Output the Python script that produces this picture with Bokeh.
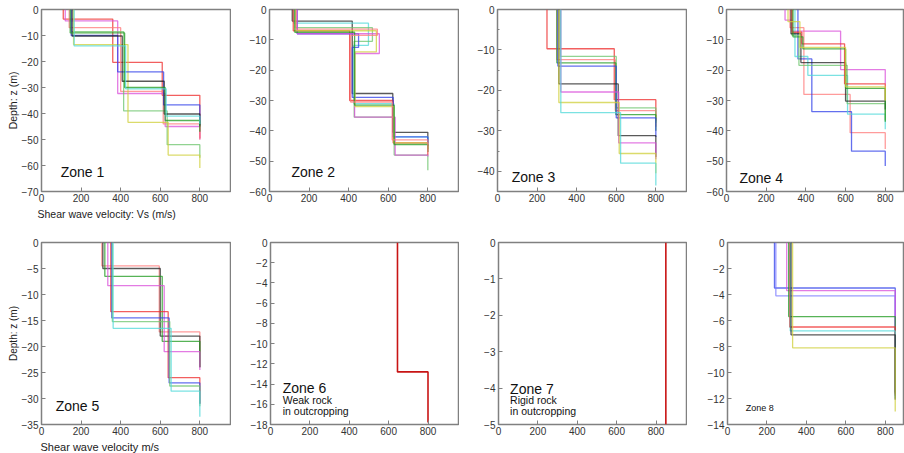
from bokeh.plotting import figure
from bokeh.models import Range1d, FixedTicker, Label, Title, ColumnDataSource
from bokeh.layouts import row, column
from bokeh.embed import file_html
from bokeh.resources import INLINE

# ---------------- data (velocity m/s, layer bottom depth m) ----------------
RED, PINK, MAG, BLUE, LBLUE = "#ee2a2a", "#ff7a7a", "#d94fd9", "#2f3fe8", "#7a7aff"
GREEN, LGREEN, BLACK, CYAN, YEL = "#1f9a1f", "#6cc46c", "#222222", "#4fd8d8", "#cfcf3a"

zone1_colors = [RED, MAG, PINK, LGREEN, YEL, BLUE, BLACK, GREEN, CYAN]
zone1_vs = [[110, 360, 610, 800], [120, 385, 625, 800], [140, 400, 615, 800],
            [150, 415, 635, 800], [162, 437, 640, 800], [150, 385, 617, 800],
            [155, 408, 620, 800], [145, 420, 625, 800], [165, 425, 630, 800]]
zone1_z = [[3.7, 20.3, 33.0, 49.5], [4.4, 32.3, 45.0, 50.0], [7.0, 31.5, 44.0, 50.0],
           [8.5, 39.0, 52.0, 57.0], [13.5, 43.4, 56.0, 61.0], [10.0, 24.0, 36.7, 44.5],
           [10.2, 27.6, 40.2, 45.0], [9.0, 30.0, 42.7, 47.0], [14.0, 30.5, 41.0, 44.0]]

zone2_colors = [BLACK, CYAN, LGREEN, RED, BLUE, MAG, YEL, GREEN, PINK]
zone2_vs = [[115, 418, 623, 800], [123, 500, 425, 628, 800], [130, 520, 428, 630, 800],
            [120, 405, 625, 800], [140, 450, 418, 625, 800], [140, 555, 430, 635, 800],
            [130, 540, 432, 628, 800], [128, 430, 630, 800], [135, 545, 410, 620, 800]]
zone2_z = [[3.8, 27.7, 40.5, 44.0], [4.5, 11.8, 31.0, 42.0, 46.0], [6.0, 10.5, 35.5, 48.0, 53.0],
           [7.0, 30.0, 44.0, 48.0], [8.0, 12.5, 29.0, 42.0, 45.0], [8.0, 14.5, 35.5, 48.0, 48.5],
           [7.0, 14.0, 32.0, 44.0, 46.0], [7.5, 31.5, 44.5, 47.0], [6.5, 8.5, 30.5, 43.0, 47.0]]

zone3_colors = [RED, PINK, LGREEN, GREEN, BLUE, BLACK, MAG, YEL, CYAN]
zone3_vs = [[250, 590, 800], [300, 595, 800], [318, 600, 800], [300, 598, 800], [305, 600, 800],
            [310, 610, 800], [320, 612, 800], [310, 615, 800], [320, 622, 800]]
zone3_z = [[9.7, 22.3, 27.5], [12.4, 25.0, 29.0], [11.6, 24.3, 28.0], [13.2, 26.0, 30.0],
           [14.0, 26.8, 31.5], [18.4, 31.2, 36.5], [20.4, 33.0, 37.0], [23.0, 35.6, 40.5],
           [25.5, 38.0, 43.5]]

zone4_colors = [MAG, PINK, BLUE, CYAN, LGREEN, BLACK, RED, GREEN, YEL]
zone4_vs = [[295, 330, 575, 800], [320, 390, 623, 800], [360, 430, 630, 800],
            [345, 410, 610, 800], [330, 365, 608, 800], [325, 375, 600, 800],
            [330, 380, 595, 800], [335, 385, 600, 800], [310, 370, 600, 800]]
zone4_z = [[3.5, 7.1, 19.8, 24.5], [6.0, 28.0, 40.6, 46.0], [16.3, 33.7, 46.7, 51.6],
           [15.5, 21.7, 34.5, 39.5], [8.5, 18.4, 31.0, 36.5], [8.0, 17.5, 30.2, 33.0],
           [7.5, 11.3, 24.5, 30.0], [9.0, 13.0, 26.0, 37.0], [4.0, 12.5, 25.5, 30.0]]

zone5_colors = [PINK, BLACK, GREEN, MAG, RED, BLUE, LGREEN, CYAN]
zone5_vs = [[305, 595, 800], [310, 600, 800], [320, 610, 800], [335, 620, 800],
            [350, 640, 800], [355, 645, 800], [358, 648, 800], [362, 655, 800]]
zone5_z = [[4.5, 17.2, 24.0], [5.0, 18.0, 24.0], [6.5, 19.0, 24.0], [8.3, 21.0, 24.5],
           [13.3, 26.0, 31.0], [14.5, 27.0, 31.0], [15.2, 27.6, 31.5], [16.5, 28.6, 33.5]]

zone6_colors = ["#c81414"]
zone6_vs = [[645, 800]]
zone6_z = [[12.8, 17.8]]

zone7_colors = ["#c81414"]
zone7_vs = [[850]]
zone7_z = [[5.0]]

zone8_colors = [BLUE, LBLUE, MAG, GREEN, RED, CYAN, BLACK, YEL]
zone8_vs = [[238, 850], [245, 850], [300, 850], [310, 850], [315, 850], [318, 850],
            [322, 850], [330, 850]]
zone8_z = [[3.5, 11.5], [4.1, 11.8], [3.7, 11.5], [5.7, 11.6], [6.5, 11.7], [6.8, 12.0],
           [7.1, 12.1], [8.1, 13.0]]

x_ticks = [0, 200, 400, 600, 800]
zone1_yticks = [0, -10, -20, -30, -40, -50, -60, -70]
zone2_yticks = [0, -10, -20, -30, -40, -50, -60]
zone3_yticks = [0, -10, -20, -30, -40]
zone3_yminor = [-5, -15, -25, -35, -45]
zone4_yticks = [0, -10, -20, -30, -40, -50, -60]
zone5_yticks = [0, -5, -10, -15, -20, -25, -30, -35]
zone6_yticks = [0, -2, -4, -6, -8, -10, -12, -14, -16, -18]
zone7_yticks = [0, -1, -2, -3, -4, -5]
zone8_yticks = [0, -2, -4, -6, -8, -10, -12, -14]
zone_depth_limits = [-70, -60, -45, -60, -35, -18, -5, -14]

FONT = "Liberation Sans"
FRAME = "#808080"


def steps(vs, zs):
    xs, ys, prev = [], [], 0.0
    for v, z in zip(vs, zs):
        xs += [v, v]
        ys += [-prev, -z]
        prev = z
    return xs, ys


def style_axis(ax):
    ax.axis_line_color = None
    ax.major_tick_in = 4
    ax.major_tick_out = 0
    ax.minor_tick_in = 2
    ax.minor_tick_out = 0
    ax.major_tick_line_color = FRAME
    ax.minor_tick_line_color = FRAME
    ax.major_label_text_font = FONT
    ax.major_label_text_font_size = "10px"
    ax.major_label_text_color = "#333333"
    ax.major_label_standoff = 3


def panel(vs_list, z_list, colors, yticks, ymin, xend, w, h, left, top, bottom, yminor=None):
    p = figure(width=w, height=h, x_range=Range1d(0, xend), y_range=Range1d(ymin, 0),
               output_backend="svg", toolbar_location=None,
               min_border_left=left, min_border_right=0, min_border_top=top,
               min_border_bottom=bottom)
    p.grid.visible = False
    p.outline_line_color = FRAME
    p.outline_line_width = 1.5
    xs, ys = [], []
    for vs, zs in zip(vs_list, z_list):
        x, y = steps(vs, zs)
        xs.append(x)
        ys.append(y)
    src = ColumnDataSource(dict(xs=xs, ys=ys, color=colors))
    p.multi_line("xs", "ys", line_color="color", line_width=1.3, line_alpha=0.75, source=src)

    p.xaxis.ticker = FixedTicker(ticks=x_ticks, minor_ticks=[])
    p.yaxis.ticker = FixedTicker(ticks=yticks, minor_ticks=yminor or [])
    style_axis(p.xaxis[0])
    style_axis(p.yaxis[0])
    p.xaxis.major_label_standoff = 2
    return p


def zone_label(p, text, x, y, size="14px"):
    p.add_layout(Label(x=x, y=y, text=text, text_font=FONT, text_font_size=size,
                       text_color="#111111", text_baseline="alphabetic"))


XEND = 960
XEND4 = 897
L = zone_depth_limits

p1 = panel(zone1_vs, zone1_z, zone1_colors, zone1_yticks, L[0], XEND, 231, 233, 41, 9, 42)
p2 = panel(zone2_vs, zone2_z, zone2_colors, zone2_yticks, L[1], XEND, 228, 233, 38, 9, 42)
p3 = panel(zone3_vs, zone3_z, zone3_colors, zone3_yticks, L[2], XEND, 228, 233, 38, 9, 42,
           zone3_yminor)
p4 = panel(zone4_vs, zone4_z, zone4_colors, zone4_yticks, L[3], XEND4, 217, 233, 39, 9, 42)
p5 = panel(zone5_vs, zone5_z, zone5_colors, zone5_yticks, L[4], XEND, 231, 220, 41, 9, 28)
p6 = panel(zone6_vs, zone6_z, zone6_colors, zone6_yticks, L[5], XEND, 228, 220, 39, 9, 28)
p7 = panel(zone7_vs, zone7_z, zone7_colors, zone7_yticks, L[6], XEND, 228, 220, 39, 9, 28)
p8 = panel(zone8_vs, zone8_z, zone8_colors, zone8_yticks, L[7], XEND4, 217, 220, 40, 9, 28)

for p in (p6, p7):
    p.renderers[0].glyph.line_alpha = 1.0
    p.renderers[0].glyph.line_width = 1.6

for p, fs in ((p1, "10.5px"), (p5, "10px")):
    p.yaxis[0].axis_label = "Depth: z (m)"
    p.yaxis[0].axis_label_text_font = FONT
    p.yaxis[0].axis_label_text_font_size = fs
    p.yaxis[0].axis_label_text_font_style = "normal"
    p.yaxis[0].axis_label_text_color = "#222222"
    p.yaxis[0].axis_label_standoff = 0

p1.add_layout(Title(text="Shear wave velocity: Vs (m/s)", align="left", offset=-4,
                    text_font=FONT, text_font_size="10.5px", text_font_style="normal",
                    text_color="#222222", standoff=2), "below")
p5.add_layout(Title(text="Shear wave velocity m/s", align="left", offset=-1,
                    text_font=FONT, text_font_size="11px", text_font_style="normal",
                    text_color="#222222", standoff=2), "below")

zone_label(p1, "Zone 1", 97, -62.5)
zone_label(p2, "Zone 2", 111, -53.7)
zone_label(p3, "Zone 3", 72, -41.3)
zone_label(p4, "Zone 4", 65, -55.7)
zone_label(p5, "Zone 5", 72, -31.5)
zone_label(p6, "Zone 6", 62, -14.4)
zone_label(p6, "Weak rock", 62, -15.6, "10.5px")
zone_label(p6, "in outcropping", 62, -16.7, "10.5px")
zone_label(p7, "Zone 7", 59, -4.02)
zone_label(p7, "Rigid rock", 59, -4.34, "10.5px")
zone_label(p7, "in outcropping", 59, -4.64, "10.5px")
zone_label(p8, "Zone 8", 93, -12.7, "9px")

layout = column(row(p1, p2, p3, p4), row(p5, p6, p7, p8))
open("out.html", "w").write(file_html(layout, INLINE))
